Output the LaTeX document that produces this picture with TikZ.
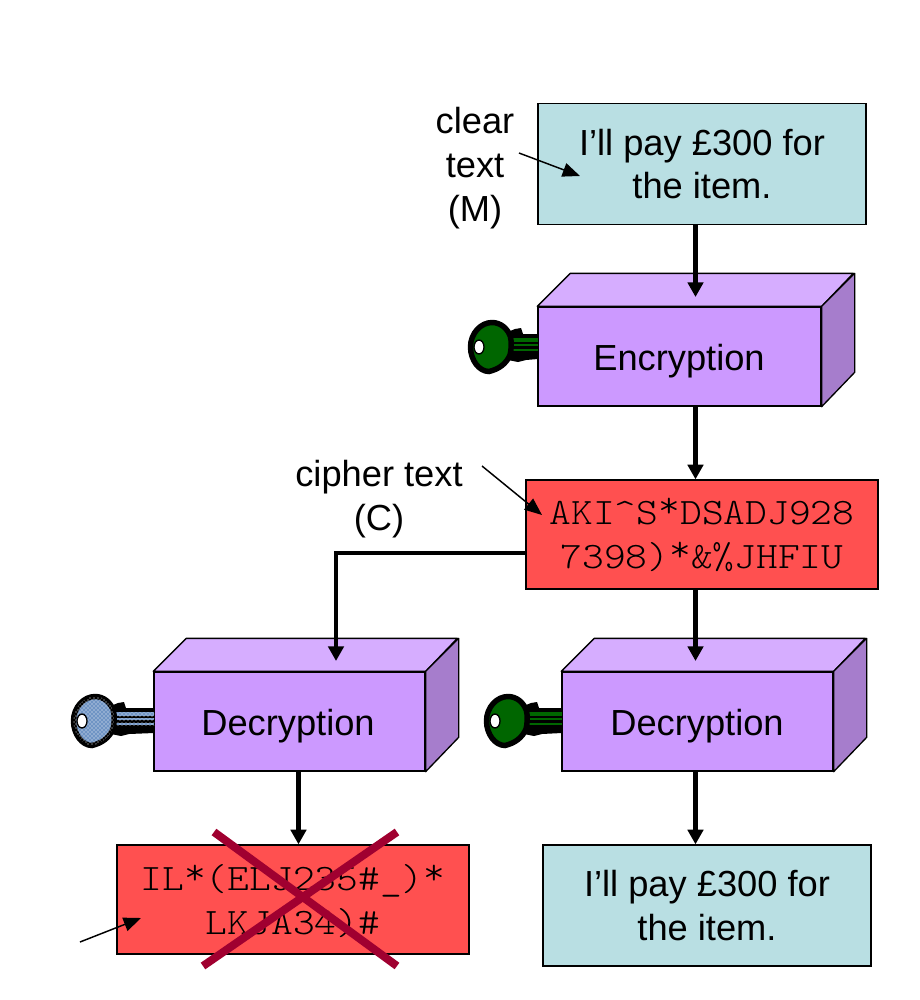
\documentclass[tikz,border=0pt]{standalone}
\usepackage{fontspec}
\setmainfont{Liberation Sans}
\newfontfamily\ciphfont{Latin Modern Mono Light}
\usetikzlibrary{arrows.meta,patterns,calc}
\definecolor{clearblue}{HTML}{B9DFE3}
\definecolor{boxfront}{HTML}{CC99FF}
\definecolor{boxtop}{HTML}{D6ADFF}
\definecolor{boxside}{HTML}{A67DCC}
\definecolor{ciphred}{HTML}{FF5050}
\definecolor{crossred}{HTML}{A00030}
\definecolor{keygreen}{HTML}{006600}
\definecolor{keyblue}{HTML}{6F94C4}
\newcommand{\cstar}{\raisebox{.17em}{*}}
\tikzset{
  x=0.75pt,y=-0.75pt,
  boxedge/.style={draw=black,line width=1pt,inner sep=0pt,align=center},
  cleartextbox/.style={boxedge,fill=clearblue,font=\fontsize{27.2}{32.3}\selectfont},
  ciphertextbox/.style={boxedge,fill=ciphred},
  ciphertxt/.style={font=\ciphfont\fontsize{28}{33}\selectfont,align=center,inner sep=0pt,xscale=1.11,transform shape},
  procfront/.style={boxedge,fill=boxfront},
  proclabel/.style={font=\fontsize{27.2}{32}\selectfont,inner sep=0pt},
  annot/.style={align=center,inner sep=0pt,font=\fontsize{27.2}{33}\selectfont},
  flow/.style={line width=3.5pt,-{Triangle[length=11pt,width=11.5pt]}},
  pointer/.style={line width=1.1pt,-{Triangle[length=13pt,width=10.5pt]}},
  crossline/.style={draw=crossred,line width=6pt},
}
% 3-D process box: name, centre x, centre y, width, height
\newcommand{\procbox}[5]{%
  \node[procfront,minimum width=#4*0.75pt,minimum height=#5*0.75pt] (#1) at (#2,#3) {};
  \draw[fill=boxtop,line width=1pt,line join=round] (#1.north west) -- ++(33,-33) -- ++(#4,0) -- (#1.north east) -- cycle;
  \draw[fill=boxside,line width=1pt,line join=round] (#1.north east) -- ++(33,-33) -- ++(0,#5) -- (#1.south east) -- cycle;
}
% key: centre of head x,y ; end of shaft x ; fill options
\newcommand{\keyshape}[4]{%
  \begin{scope}[shift={(#1,#2)}]
    \fill[black] (15,-14) -- (25,-18) -- (31,-19) -- (33,-13) -- (#3-#1,-13) -- (#3-#1,12) -- (36,13) -- (28,15) -- (18,13) -- cycle;
    \fill[#4] (18,-9) -- (#3-#1,-9) -- (#3-#1,-5) -- (18,-5) -- cycle;
    \fill[#4] (18,-3) -- (#3-#1,-3) -- (#3-#1,-1) -- (18,-1) -- cycle;
    \fill[#4] (18,1.5) -- (#3-#1,1.5) -- (#3-#1,4) -- (18,4) -- cycle;
    \draw[line width=4.1pt,#4] (-19.5,0) .. controls (-19.5,-14) and (-9,-24.5) .. (2,-24.5)
      .. controls (11,-24.5) and (18,-18) .. (20.5,-10)
      .. controls (22,-4) and (21,4) .. (20,8)
      .. controls (16,17) and (9,22) .. (-1,24.5)
      .. controls (-11,24.5) and (-19.5,13) .. (-19.5,0) -- cycle;
    \draw[fill=white,line width=1pt] (-11,0) ellipse (5 and 7);
  \end{scope}
}
\begin{document}
\begin{tikzpicture}
\useasboundingbox (0,0) rectangle (920,1000);

% text boxes
\node[cleartextbox,minimum width=246pt,minimum height=90.75pt] (clearTop) at (702,164) {I’ll pay £300 for\\the item.};
\node[ciphertextbox,minimum width=264pt,minimum height=81.75pt] (cipher) at (702,534.5) {};
\node[ciphertxt] (cipherText) at (702,535) {AKI\^{}S\cstar DSADJ928\\7398)\cstar\&\%JHFIU};
\node[ciphertextbox,minimum width=264pt,minimum height=81.75pt] (wrong) at (293,899.5) {};
\node[ciphertxt] (wrongText) at (293,901) {IL\cstar(ELJ235\#\_)\cstar\\LKJA34)\#};
\node[cleartextbox,minimum width=246pt,minimum height=90.75pt] (clearBottom) at (707,905.5) {I’ll pay £300 for\\the item.};

% process boxes
\procbox{enc}{679.5}{356.5}{283}{99}
\procbox{decL}{289.5}{721.5}{271}{99}
\procbox{decR}{697.5}{721.5}{271}{99}
\node[proclabel] (encLabel) at (679,361) {Encryption};
\node[proclabel] (decLLabel) at (288,726) {Decryption};
\node[proclabel] (decRLabel) at (697,726) {Decryption};

% keys
\keyshape{490}{347}{538}{fill=keygreen}
\keyshape{93}{721}{154}{fill=keyblue,postaction={pattern=crosshatch dots,pattern color=white}}
\keyshape{506}{721}{562}{fill=keygreen}

% free connector ends
\coordinate (p1) at (695.5,297);
\coordinate (p2) at (695.5,661);
\coordinate (p3) at (336,661);
\coordinate (p4) at (298.5,845);
\coordinate (p5) at (695.5,845);
\coordinate (p6) at (526,553);

% flow connectors
\draw[flow] (clearTop.south -| p1) -- (p1);
\draw[flow] (enc.south -| p1) -- (cipher.north -| p1);
\draw[flow] (cipher.south -| p2) -- (p2);
\draw[flow,line join=miter] (p6) -| (p3);
\draw[flow] (decL.south -| p4) -- (wrong.north -| p4);
\draw[flow] (decR.south -| p5) -- (clearBottom.north -| p5);

% annotations
\node[annot] (clearLabel) at (475,168) {clear\\text\\(M)};
\node[annot] (cipherLabel) at (379,499) {cipher text\\(C)};
\coordinate (a1) at (519,153);
\coordinate (a2) at (580,176);
\coordinate (b1) at (482,466);
\coordinate (b2) at (542,515);
\coordinate (c1) at (80,942);
\coordinate (c2) at (141,918);
\draw[pointer] (a1) -- (a2);
\draw[pointer] (b1) -- (b2);
\draw[pointer] (c1) -- (c2);

% cross
\coordinate (x1) at (203,966);
\coordinate (x2) at (397,832);
\coordinate (x3) at (214,832);
\coordinate (x4) at (397,966);
\draw[crossline] (x3) -- (x4);
\draw[crossline] (x1) -- (x2);
\end{tikzpicture}
\end{document}
